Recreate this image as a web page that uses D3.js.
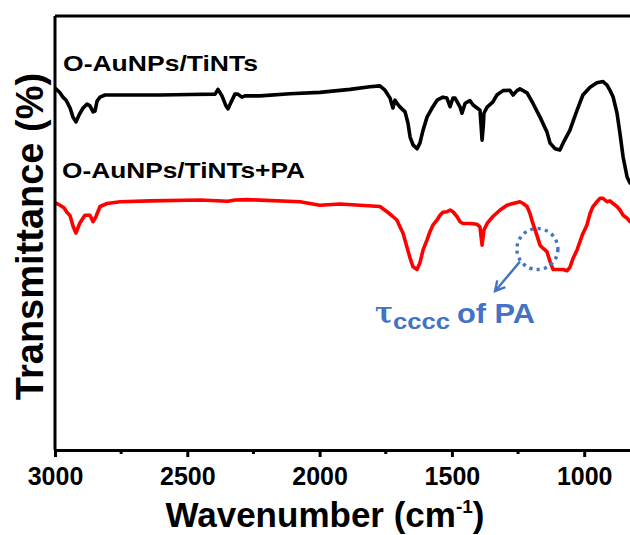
<!DOCTYPE html>
<html>
<head>
<meta charset="utf-8">
<script src="https://cdn.jsdelivr.net/npm/d3@7"></script>
<style>
  html, body { margin: 0; padding: 0; background: #fff; }
  svg { display: block; font-family: "Liberation Sans", Arial, sans-serif; }
</style>
</head>
<body>
<svg id="chart" width="630" height="535"></svg>
<script>
// FTIR spectra: wavenumber (cm-1) and transmittance (arbitrary offset, %)
const seriesNames = ["O-AuNPs/TiNTs", "O-AuNPs/TiNTs+PA"];
const seriesColors = ["#000000", "#ff0000"];

const blackWn = [2996,2981,2970,2958,2943,2932,2921,2909,2894,2879,2868,2856,2849,2841,2830,2811,2773,2717,2603,2490,
  2395,2384,2369,2354,2346,2335,2320,2309,2294,2282,2225,2112,1999,1885,1810,1772,1753,1734,1723,1715,1708,1696,1677,
  1666,1658,1647,1632,1621,1609,1594,1575,1556,1534,1519,1507,1496,1488,1469,1462,1450,1432,1420,1405,1394,1390,1386,
  1381,1379,1367,1345,1330,1307,1281,1269,1254,1243,1216,1194,1167,1141,1129,1110,1092,1080,1054,1027,1005,978,952,
  929,914,903,891,876,865,853,838,827];
const blackT = [83.2,82.3,81.3,80.6,78.8,76.7,75.6,77.2,78.8,79.7,79.3,77.9,78.1,80.4,81.3,81.8,81.8,81.8,81.8,81.9,
  82.0,83.1,81.6,79.3,78.6,80.1,82.0,82.0,81.3,81.6,81.6,82.1,82.4,83.1,83.7,83.9,82.9,81.1,78.8,80.6,79.9,79.0,77.9,
  75.3,72.1,70.3,69.4,70.7,73.7,76.7,78.8,80.6,81.3,81.1,79.1,81.1,81.1,79.0,77.6,79.9,80.5,79.5,78.8,78.3,75.0,71.4,
  75.0,77.6,79.0,80.2,81.8,82.8,82.9,81.8,82.8,83.2,82.3,79.9,76.7,73.3,70.7,69.4,69.1,70.7,73.7,78.3,81.8,83.6,84.6,
  84.9,84.1,82.9,81.4,77.6,73.0,67.5,62.9,61.5];

const redWn = [2996,2981,2966,2955,2943,2932,2921,2906,2887,2868,2856,2845,2830,2803,2754,2641,2452,2346,2320,2274,
  2074,1999,1923,1847,1772,1745,1723,1708,1696,1685,1670,1658,1647,1632,1621,1609,1594,1583,1572,1556,1545,1534,1519,
  1507,1496,1481,1469,1458,1432,1405,1394,1386,1379,1367,1345,1318,1292,1269,1243,1231,1216,1205,1194,1179,1167,1156,
  1141,1129,1118,1103,1080,1065,1054,1042,1027,1016,1005,990,978,967,952,940,929,914,903,891,876,865,853,838,827];
const redT = [56.9,56.4,55.8,54.8,54.0,51.6,50.0,52.3,54.1,54.1,52.6,53.8,56.1,56.8,57.2,57.4,57.6,57.3,57.6,57.7,
  57.2,56.4,56.7,56.4,56.1,54.9,53.8,53.0,51.4,50.0,46.8,44.2,42.2,41.6,43.1,46.1,48.4,50.3,51.8,53.0,54.1,54.8,54.9,
  55.3,54.9,53.8,52.6,52.2,52.2,52.0,51.4,47.2,50.7,52.2,53.8,55.3,56.4,56.8,57.2,56.8,56.1,54.5,52.2,49.5,47.2,46.5,
  45.7,43.4,41.6,41.6,41.6,41.3,42.1,44.2,46.1,48.0,49.9,51.8,54.5,56.1,57.2,58.0,58.0,57.2,57.4,56.8,56.1,55.3,54.1,53.4,52.6];

const majorTicks = [3000, 2500, 2000, 1500, 1000];
const minorTicks = [2750, 2250, 1750, 1250];

const svg = d3.select("#chart");
const plotLeft = 55, plotRight = 630, plotTop = 16, plotBottom = 450;

const x = d3.scaleLinear().domain([3000, 827]).range([plotLeft, plotRight]);
const y = d3.scaleLinear().domain([0, 100]).range([plotBottom, plotTop]);

const series = [
  blackWn.map((w, i) => ({ wn: w, t: blackT[i] })),
  redWn.map((w, i) => ({ wn: w, t: redT[i] }))
];

const line = d3.line().x(d => x(d.wn)).y(d => y(d.t));

// spectra
svg.append("g").selectAll("path").data(series).join("path")
  .attr("d", line)
  .attr("fill", "none")
  .attr("stroke", (d, i) => seriesColors[i])
  .attr("stroke-width", 3.6)
  .attr("stroke-linejoin", "round")
  .attr("stroke-linecap", "round");

// frame: left and top edges
svg.append("line").attr("x1", plotLeft).attr("x2", plotLeft).attr("y1", plotTop).attr("y2", plotBottom)
  .attr("stroke", "#000").attr("stroke-width", 3);
svg.append("line").attr("x1", plotLeft).attr("x2", plotRight).attr("y1", plotTop).attr("y2", plotTop)
  .attr("stroke", "#000").attr("stroke-width", 3);

// x axis with major and minor ticks
const xAxis = svg.append("g").attr("transform", `translate(0,${plotBottom})`)
  .call(d3.axisBottom(x).tickValues(majorTicks).tickSize(7).tickSizeOuter(0).tickFormat(d3.format("d")));
xAxis.select(".domain").attr("stroke-width", 3);
xAxis.selectAll(".tick line").attr("stroke-width", 3);
xAxis.selectAll(".tick text")
  .attr("y", 35).attr("dy", 0)
  .attr("font-size", 25).attr("font-weight", "bold")
  .attr("font-family", "Liberation Sans, Arial, sans-serif")
  .attr("fill", "#000");

svg.append("g").attr("transform", `translate(0,${plotBottom})`)
  .selectAll("line").data(minorTicks).join("line")
  .attr("x1", d => x(d)).attr("x2", d => x(d))
  .attr("y1", 0).attr("y2", 4)
  .attr("stroke", "#000").attr("stroke-width", 3);

// axis titles
const xTitle = svg.append("text")
  .attr("x", 325).attr("y", 526.5)
  .attr("text-anchor", "middle")
  .attr("font-size", 35).attr("font-weight", "bold");
xTitle.append("tspan").text("Wavenumber (cm");
xTitle.append("tspan").attr("font-size", 19).attr("dy", -14).text("-1");
xTitle.append("tspan").attr("dy", 14).text(")");

svg.append("text")
  .attr("transform", "translate(43,236.5) rotate(-90)")
  .attr("text-anchor", "middle")
  .attr("font-size", 38).attr("font-weight", "bold")
  .text("Transmittance (%)");

// series labels
const labelPos = [[63, 70.5, 195], [62, 178, 243]];
svg.append("g").selectAll("text").data(seriesNames).join("text")
  .attr("x", (d, i) => labelPos[i][0])
  .attr("y", (d, i) => labelPos[i][1])
  .attr("textLength", (d, i) => labelPos[i][2])
  .attr("lengthAdjust", "spacingAndGlyphs")
  .attr("font-size", 22).attr("font-weight", "bold")
  .attr("fill", "#000")
  .text(d => d);

// annotation for the PA torsion band
const blue = "#4472c4";
const mark = { wn: 1177, t: 46.3 };
svg.append("circle")
  .attr("cx", x(mark.wn)).attr("cy", y(mark.t)).attr("r", 20.5)
  .attr("fill", "none").attr("stroke", blue).attr("stroke-width", 3.4)
  .attr("stroke-dasharray", "3.2 4.2");

const arrowFrom = { wn: 1243, t: 43.4 }, arrowTo = { wn: 1337, t: 36.6 };
const ax1 = x(arrowFrom.wn), ay1 = y(arrowFrom.t), ax2 = x(arrowTo.wn), ay2 = y(arrowTo.t);
svg.append("line").attr("x1", ax1).attr("y1", ay1).attr("x2", ax2).attr("y2", ay2)
  .attr("stroke", blue).attr("stroke-width", 2.4);
const ang = Math.atan2(ay2 - ay1, ax2 - ax1);
const headLen = 11, spread = 0.5;
svg.append("path")
  .attr("d", `M${ax2 - headLen * Math.cos(ang - spread)},${ay2 - headLen * Math.sin(ang - spread)}L${ax2},${ay2}L${ax2 - headLen * Math.cos(ang + spread)},${ay2 - headLen * Math.sin(ang + spread)}`)
  .attr("fill", "none").attr("stroke", blue).attr("stroke-width", 2.4)
  .attr("stroke-linejoin", "miter");

const annotation = svg.append("g").attr("fill", blue).attr("font-weight", "bold");
annotation.append("text").attr("x", 375).attr("y", 323)
  .attr("font-family", "DejaVu Serif, serif").attr("font-size", 29)
  .attr("textLength", 18).attr("lengthAdjust", "spacingAndGlyphs")
  .text("τ");
annotation.append("text").attr("x", 393).attr("y", 328.5)
  .attr("font-size", 22).attr("textLength", 57).attr("lengthAdjust", "spacingAndGlyphs")
  .text("cccc");
annotation.append("text").attr("x", 457).attr("y", 322.7)
  .attr("font-size", 28.5).attr("textLength", 78).attr("lengthAdjust", "spacingAndGlyphs")
  .text("of PA");
</script>
</body>
</html>
